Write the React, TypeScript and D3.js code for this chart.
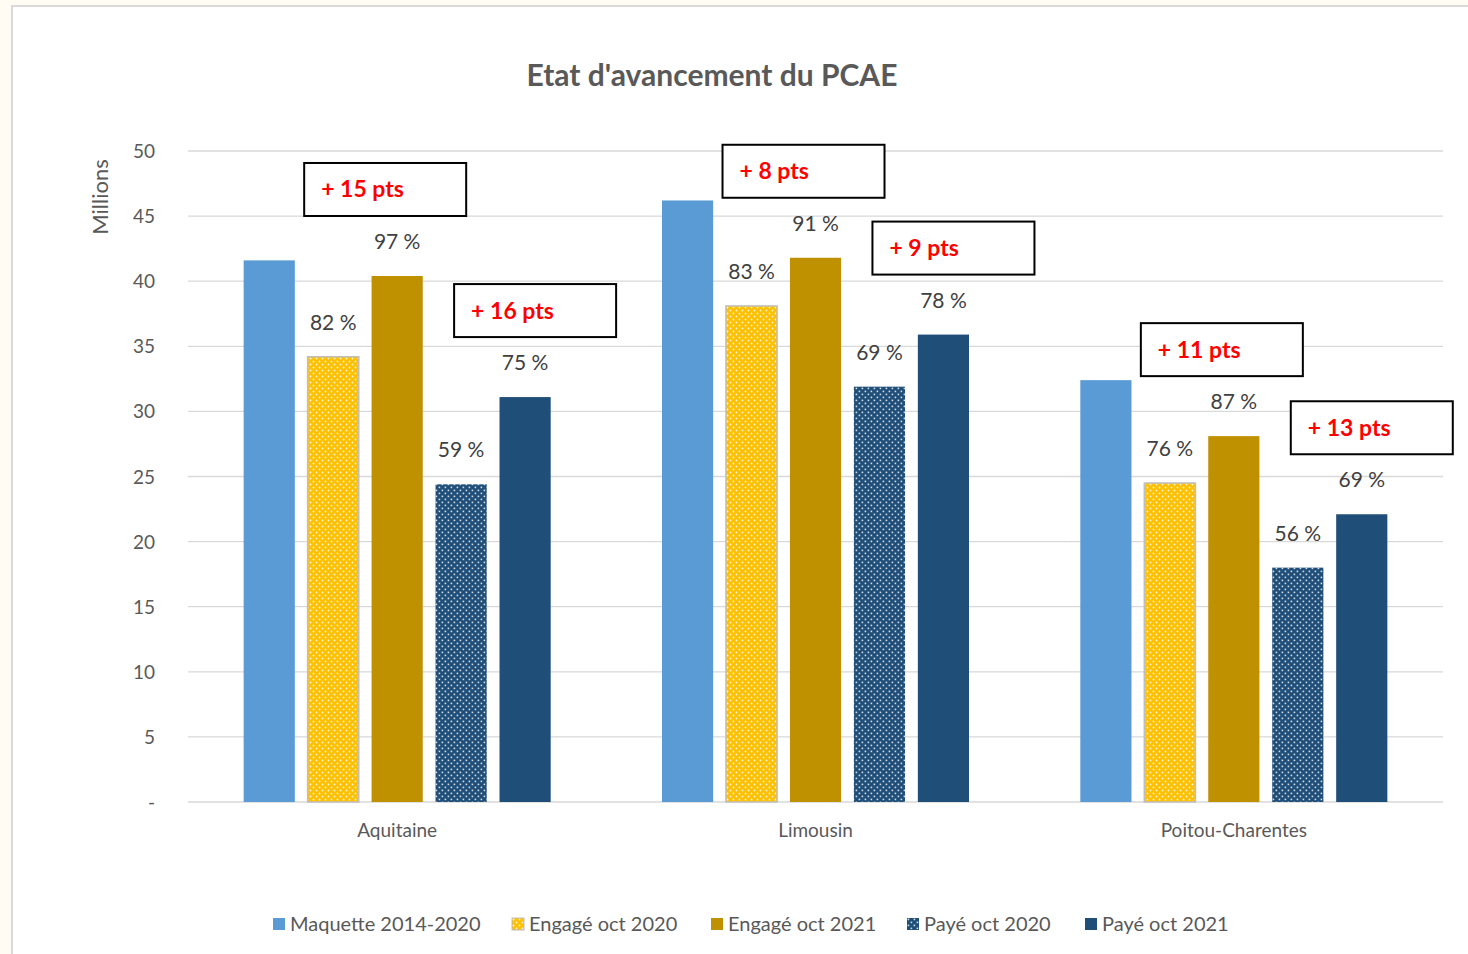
import { useEffect } from 'react'
import * as d3 from 'd3'

const regions = ['Aquitaine', 'Limousin', 'Poitou-Charentes']
const seriesNames = ['Maquette 2014-2020', 'Engagé oct 2020', 'Engagé oct 2021', 'Payé oct 2020', 'Payé oct 2021']

// values in millions, one array per series (Aquitaine, Limousin, Poitou-Charentes)
const maquette = [41.6, 46.2, 32.4]
const engage2020 = [34.2, 38.1, 24.5]
const engage2021 = [40.4, 41.8, 28.1]
const paye2020 = [24.4, 31.9, 18.0]
const paye2021 = [31.1, 35.9, 22.1]

const pctLabels: Record<string, string[]> = {
  'Engagé oct 2020': ['82 %', '83 %', '76 %'],
  'Engagé oct 2021': ['97 %', '91 %', '87 %'],
  'Payé oct 2020': ['59 %', '69 %', '56 %'],
  'Payé oct 2021': ['75 %', '78 %', '69 %'],
}

const engageGain = ['+ 15 pts', '+ 8 pts', '+ 11 pts']
const payeGain = ['+ 16 pts', '+ 9 pts', '+ 13 pts']

const yTicks = [0, 5, 10, 15, 20, 25, 30, 35, 40, 45, 50]

const fills = ['#5B9BD5', 'url(#dotsGold)', '#BF9000', 'url(#dotsNavy)', '#1F4E79']

const W = 1468
const H = 954
const FONT = 'Lato, "Open Sans", sans-serif'

export default function App() {
  useEffect(() => {
    document.body.style.margin = '0'
  }, [])

  const values = [maquette, engage2020, engage2021, paye2020, paye2021]

  const x0 = d3.scaleBand<string>().domain(regions).range([188, 1443]).paddingInner(0).paddingOuter(0)
  const x1 = d3
    .scaleBand<string>()
    .domain(seriesNames)
    .range([0, x0.bandwidth()])
    .paddingInner(0.2)
    .paddingOuter(0.87)
  const y = d3.scaleLinear().domain([0, 50]).range([802, 151])

  const barX = (r: number, s: number) => (x0(regions[r]) ?? 0) + (x1(seriesNames[s]) ?? 0)
  const bw = x1.bandwidth()

  // callout boxes sit above the taller bar of a pair
  const callout = (r: number, a: number, b: number, text: string, key: string, shift: number) => {
    const mid = (barX(r, a) + barX(r, b) + bw) / 2 + shift
    const top = Math.min(y(values[a][r]), y(values[b][r]))
    const bh = 53
    const bwid = 162
    const by = top - 60 - bh
    return (
      <g key={key}>
        <rect x={mid - bwid / 2} y={by} width={bwid} height={bh} fill="#fff" stroke="#000" strokeWidth={2} />
        <text x={mid - bwid / 2 + 17} y={by + bh / 2 + 8} fill="#FF0000" fontWeight="bold" fontSize={23} fontFamily={FONT}>
          {text}
        </text>
      </g>
    )
  }

  const legendX = [273, 512, 711, 907, 1085]

  return (
    <svg width={W} height={H} style={{ display: 'block' }}>
      <defs>
        <pattern id="dotsGold" width={6} height={6} patternUnits="userSpaceOnUse">
          <rect width={6} height={6} fill="#FFC000" />
          <circle cx={1.5} cy={1.5} r={0.9} fill="#fff" opacity={0.85} />
          <circle cx={4.5} cy={4.5} r={0.9} fill="#fff" opacity={0.85} />
        </pattern>
        <pattern id="dotsNavy" width={6} height={6} patternUnits="userSpaceOnUse">
          <rect width={6} height={6} fill="#1F4E79" />
          <rect x={0.6} y={0.6} width={1.6} height={1.6} fill="#fff" opacity={0.8} />
          <rect x={3.6} y={3.6} width={1.6} height={1.6} fill="#fff" opacity={0.8} />
        </pattern>
      </defs>

      <rect x={0} y={0} width={W} height={H} fill="#FFFCF4" />
      <rect x={12} y={6} width={W} height={H} fill="#fff" stroke="#D9D9D9" strokeWidth={2} />

      <text x={712} y={86} textAnchor="middle" fontSize={30} fontWeight="bold" fill="#595959" fontFamily={FONT}>
        Etat d'avancement du PCAE
      </text>

      {/* grid + y axis */}
      {yTicks.map((t) => (
        <g key={t}>
          <line x1={188} x2={1443} y1={y(t)} y2={y(t)} stroke="#D9D9D9" strokeWidth={1.3} />
          <text x={155} y={y(t) + 7} textAnchor="end" fontSize={19} fill="#595959" fontFamily={FONT}>
            {t === 0 ? '-' : t}
          </text>
        </g>
      ))}
      <text
        transform={`translate(108, 197) rotate(-90)`}
        textAnchor="middle"
        fontSize={22}
        fill="#595959"
        fontFamily={FONT}
      >
        Millions
      </text>

      {/* bars */}
      {regions.map((reg, r) => (
        <g key={reg}>
          {seriesNames.map((s, si) => (
            <rect
              key={s}
              x={barX(r, si)}
              y={y(values[si][r])}
              width={bw}
              height={y(0) - y(values[si][r])}
              fill={fills[si]}
              stroke={si === 1 ? '#BFBFBF' : 'none'}
              strokeWidth={si === 1 ? 1.5 : 0}
            />
          ))}
          {seriesNames.slice(1).map((s, k) => {
            const si = k + 1
            return (
              <text
                key={s + 'l'}
                x={barX(r, si) + bw / 2}
                y={y(values[si][r]) - 27}
                textAnchor="middle"
                fontSize={21}
                fill="#404040"
                fontFamily={FONT}
              >
                {pctLabels[s][r]}
              </text>
            )
          })}
          <text x={(x0(reg) ?? 0) + x0.bandwidth() / 2} y={837} textAnchor="middle" fontSize={19} fill="#595959" fontFamily={FONT}>
            {reg}
          </text>
        </g>
      ))}

      {/* callouts */}
      {regions.map((reg, r) => callout(r, 1, 2, engageGain[r], reg + 'e', 20))}
      {regions.map((reg, r) => callout(r, 3, 4, payeGain[r], reg + 'p', 42))}

      {/* legend */}
      {seriesNames.map((s, si) => (
        <g key={s} transform={`translate(${legendX[si]}, 918)`}>
          <rect x={0} y={0} width={12} height={12} fill={fills[si]} stroke={si === 1 ? '#BFBFBF' : 'none'} />
          <text x={17} y={13} fontSize={20} fill="#595959" fontFamily={FONT}>
            {s}
          </text>
        </g>
      ))}
    </svg>
  )
}
